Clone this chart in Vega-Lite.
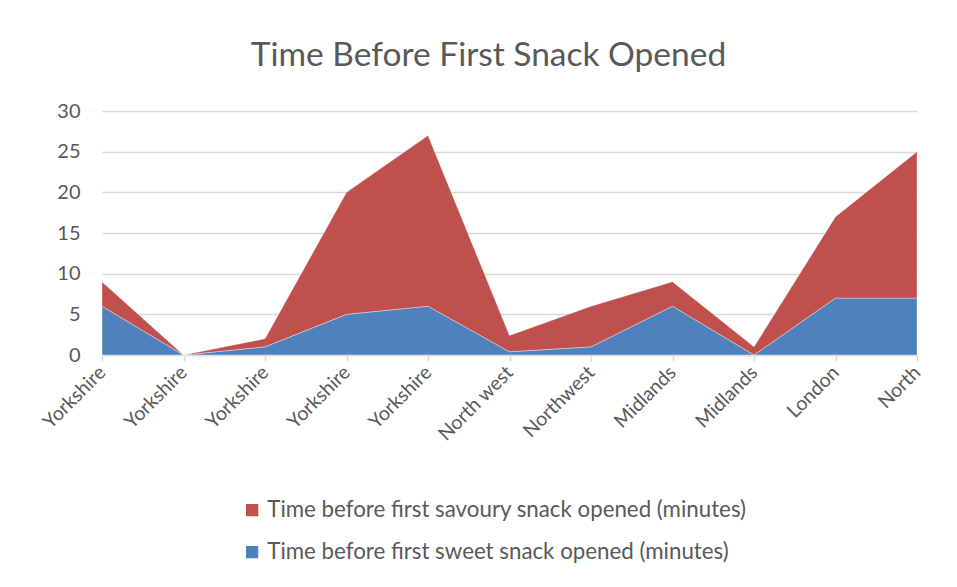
{
  "$schema": "https://vega.github.io/schema/vega-lite/v6.json",
  "width": 815,
  "height": 244,
  "autosize": {"type": "none"},
  "padding": {"left": 102, "top": 111, "right": 40, "bottom": 232},
  "background": "white",
  "title": {
    "text": "Time Before First Snack Opened",
    "font": "Lato",
    "fontSize": 33.5,
    "fontWeight": "normal",
    "color": "#595959",
    "anchor": "middle",
    "dx": -21,
    "offset": 28
  },
  "data": {
    "values": [
      {"key": "Yorkshire|1", "series": "Time before first sweet snack opened (minutes)", "minutes": 6},
      {"key": "Yorkshire|2", "series": "Time before first sweet snack opened (minutes)", "minutes": 0},
      {"key": "Yorkshire|3", "series": "Time before first sweet snack opened (minutes)", "minutes": 1},
      {"key": "Yorkshire|4", "series": "Time before first sweet snack opened (minutes)", "minutes": 5},
      {"key": "Yorkshire|5", "series": "Time before first sweet snack opened (minutes)", "minutes": 6},
      {"key": "North west|6", "series": "Time before first sweet snack opened (minutes)", "minutes": 0.4},
      {"key": "Northwest|7", "series": "Time before first sweet snack opened (minutes)", "minutes": 1},
      {"key": "Midlands|8", "series": "Time before first sweet snack opened (minutes)", "minutes": 6},
      {"key": "Midlands|9", "series": "Time before first sweet snack opened (minutes)", "minutes": 0},
      {"key": "London|10", "series": "Time before first sweet snack opened (minutes)", "minutes": 7},
      {"key": "North|11", "series": "Time before first sweet snack opened (minutes)", "minutes": 7},
      {"key": "Yorkshire|1", "series": "Time before first savoury snack opened (minutes)", "minutes": 3},
      {"key": "Yorkshire|2", "series": "Time before first savoury snack opened (minutes)", "minutes": 0},
      {"key": "Yorkshire|3", "series": "Time before first savoury snack opened (minutes)", "minutes": 1},
      {"key": "Yorkshire|4", "series": "Time before first savoury snack opened (minutes)", "minutes": 15},
      {"key": "Yorkshire|5", "series": "Time before first savoury snack opened (minutes)", "minutes": 21},
      {"key": "North west|6", "series": "Time before first savoury snack opened (minutes)", "minutes": 2},
      {"key": "Northwest|7", "series": "Time before first savoury snack opened (minutes)", "minutes": 5},
      {"key": "Midlands|8", "series": "Time before first savoury snack opened (minutes)", "minutes": 3},
      {"key": "Midlands|9", "series": "Time before first savoury snack opened (minutes)", "minutes": 1},
      {"key": "London|10", "series": "Time before first savoury snack opened (minutes)", "minutes": 10},
      {"key": "North|11", "series": "Time before first savoury snack opened (minutes)", "minutes": 18}
    ]
  },
  "mark": {"type": "area", "stroke": "#ffffff", "strokeWidth": 0.6, "strokeOpacity": 0.6},
  "encoding": {
    "x": {
      "field": "key",
      "type": "ordinal",
      "sort": null,
      "scale": {"type": "point", "padding": 0},
      "axis": {
        "title": null,
        "labelExpr": "split(datum.label, '|')[0]",
        "labelAngle": -45,
        "labelAlign": "right",
        "labelBaseline": "middle",
        "labelFont": "Lato",
        "labelFontSize": 19.5,
        "labelColor": "#595959",
        "labelPadding": 8,
        "domainColor": "#d9d9d9",
        "domainWidth": 1.5,
        "tickColor": "#d9d9d9",
        "tickWidth": 1.5,
        "tickSize": 6,
        "grid": false
      }
    },
    "y": {
      "field": "minutes",
      "type": "quantitative",
      "stack": "zero",
      "scale": {"domain": [0, 30], "nice": false},
      "axis": {
        "title": null,
        "values": [0, 5, 10, 15, 20, 25, 30],
        "labelFont": "Lato",
        "labelFontSize": 20,
        "labelColor": "#595959",
        "labelPadding": 22,
        "domain": false,
        "ticks": false,
        "grid": true,
        "gridColor": "#d9d9d9",
        "gridWidth": 1.5
      }
    },
    "color": {
      "field": "series",
      "type": "nominal",
      "scale": {
        "domain": ["Time before first savoury snack opened (minutes)", "Time before first sweet snack opened (minutes)"],
        "range": ["#C0504D", "#4F81BD"]
      },
      "legend": {
        "title": null,
        "orient": "none",
        "legendX": 139,
        "legendY": 388,
        "direction": "vertical",
        "symbolType": "square",
        "symbolSize": 150,
        "symbolStrokeWidth": 0,
        "labelFont": "Lato",
        "labelFontSize": 22.3,
        "labelColor": "#595959",
        "labelLimit": 0,
        "rowPadding": 19,
        "labelOffset": 4
      }
    },
    "order": {"field": "series", "sort": "descending"}
  },
  "config": {"view": {"stroke": null}}
}
